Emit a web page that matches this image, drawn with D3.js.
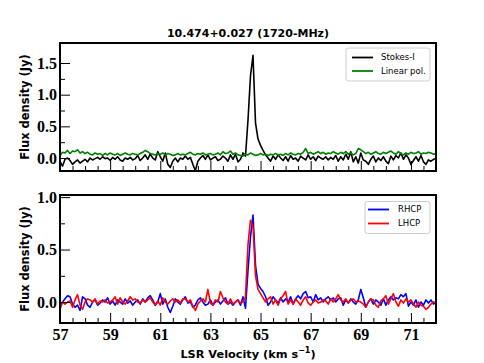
<!DOCTYPE html>
<html><head><meta charset="utf-8">
<script src="https://cdn.jsdelivr.net/npm/d3@7"></script>
<style>body{margin:0;background:#fff}</style>
</head><body>
<svg id="c" width="484" height="363"></svg>
<script>
const velocity = [
57.0,57.1,57.2,57.3,57.4,57.5,57.6,57.7,57.8,57.9,
58.0,58.1,58.2,58.3,58.4,58.5,58.6,58.7,58.8,58.9,
59.0,59.1,59.2,59.3,59.4,59.5,59.6,59.7,59.8,59.9,
60.0,60.1,60.2,60.3,60.4,60.5,60.6,60.7,60.8,60.9,
61.0,61.1,61.2,61.3,61.4,61.5,61.6,61.7,61.8,61.9,
62.0,62.1,62.2,62.3,62.4,62.5,62.6,62.7,62.8,62.9,
63.0,63.1,63.2,63.3,63.4,63.5,63.6,63.7,63.8,63.9,
64.0,64.1,64.2,64.3,64.4,64.5,64.6,64.7,64.8,64.9,
65.0,65.1,65.2,65.3,65.4,65.5,65.6,65.7,65.8,65.9,
66.0,66.1,66.2,66.3,66.4,66.5,66.6,66.7,66.8,66.9,
67.0,67.1,67.2,67.3,67.4,67.5,67.6,67.7,67.8,67.9,
68.0,68.1,68.2,68.3,68.4,68.5,68.6,68.7,68.8,68.9,
69.0,69.1,69.2,69.3,69.4,69.5,69.6,69.7,69.8,69.9,
70.0,70.1,70.2,70.3,70.4,70.5,70.6,70.7,70.8,70.9,
71.0,71.1,71.2,71.3,71.4,71.5,71.6,71.7,71.8,71.9,
72.0];

const stokesI = [
-0.05,-0.13,-0.02,0.0,-0.04,-0.1,-0.06,-0.03,-0.08,-0.05,
-0.02,-0.06,0.0,-0.03,-0.01,0.01,-0.02,0.02,-0.01,0.0,
-0.04,0.01,-0.02,0.02,-0.03,-0.05,0.0,-0.02,0.01,-0.03,
-0.01,0.04,-0.04,0.0,0.05,-0.02,0.06,0.0,-0.03,0.1,
0.02,-0.05,0.08,-0.1,-0.15,-0.05,0.0,-0.06,0.0,-0.02,
0.03,-0.02,0.01,-0.1,-0.2,-0.05,0.0,0.04,-0.02,0.05,
-0.03,0.0,0.02,-0.04,-0.02,0.03,0.0,-0.05,0.05,-0.02,
0.06,-0.06,-0.02,0.08,0.03,0.6,1.3,1.62,0.55,0.3,
0.2,0.12,0.05,0.0,-0.05,0.03,-0.02,0.05,0.0,-0.04,
0.02,-0.05,0.04,-0.02,0.0,-0.05,0.03,0.0,-0.03,0.05,
-0.02,0.02,-0.04,0.03,0.0,-0.02,0.02,-0.03,0.01,-0.02,
0.04,-0.05,0.02,-0.03,0.06,-0.02,0.1,-0.06,0.02,-0.08,
0.08,-0.03,-0.05,-0.1,-0.02,0.03,-0.06,0.0,-0.04,0.02,
-0.05,-0.09,0.03,-0.03,0.04,0.0,0.08,-0.02,0.05,0.0,
-0.1,-0.04,0.02,-0.05,0.04,-0.06,-0.1,-0.03,-0.05,-0.02,
-0.01];

const linearPol = [
0.04,0.09,0.08,0.12,0.07,0.11,0.1,0.13,0.08,0.1,
0.07,0.09,0.06,0.05,0.08,0.06,0.07,0.04,0.07,0.05,
0.08,0.06,0.05,0.07,0.04,0.06,0.08,0.06,0.05,0.07,
0.06,0.05,0.07,0.09,0.12,0.1,0.07,0.06,0.05,0.07,
0.06,0.08,0.05,0.07,0.06,0.04,0.05,0.07,0.05,0.06,
0.05,0.07,0.09,0.06,0.05,0.07,0.06,0.08,0.05,0.06,
0.07,0.05,0.06,0.08,0.05,0.1,0.07,0.08,0.11,0.06,
0.08,0.05,0.04,0.03,0.06,0.05,0.08,0.06,0.04,0.05,
0.07,0.05,0.06,0.04,0.06,0.05,0.07,0.05,0.06,0.04,
0.07,0.05,0.08,0.06,0.05,0.07,0.06,0.09,0.15,0.07,
0.09,0.06,0.08,0.1,0.07,0.09,0.06,0.08,0.07,0.1,
0.08,0.06,0.09,0.07,0.1,0.06,0.08,0.05,0.07,0.15,
0.13,0.1,0.07,0.09,0.06,0.08,0.1,0.07,0.06,0.09,
0.07,0.09,0.11,0.08,0.06,0.1,0.07,0.05,0.08,0.06,
0.09,0.07,0.08,0.1,0.06,0.08,0.07,0.09,0.08,0.06,
0.07];

const rhcp = [
-0.05,0.0,0.03,0.06,0.05,-0.02,-0.05,-0.03,-0.08,0.05,
0.03,-0.03,-0.05,0.0,0.02,-0.03,-0.01,0.02,0.0,0.04,
-0.02,0.01,-0.03,0.02,0.0,-0.02,0.03,-0.01,0.01,-0.03,
0.0,0.02,-0.02,0.03,0.0,0.04,0.06,0.02,-0.03,0.0,
0.08,-0.02,0.03,-0.05,-0.1,-0.04,0.03,0.0,-0.02,0.02,
0.05,-0.01,0.0,-0.05,-0.03,0.02,0.04,0.0,-0.03,-0.02,
0.02,-0.03,0.0,0.02,-0.02,0.01,0.04,-0.02,0.0,-0.03,
0.0,0.02,-0.03,0.05,-0.06,0.3,0.62,0.83,0.35,0.17,
0.13,0.1,0.05,-0.03,0.0,0.05,0.02,-0.01,0.04,0.0,
0.03,0.0,0.05,-0.02,0.03,0.06,0.03,0.08,0.1,0.04,
0.05,0.0,0.07,0.02,0.04,0.0,0.03,0.05,0.02,0.04,
0.0,0.03,0.04,-0.03,0.02,-0.01,0.03,0.0,-0.02,0.02,
0.12,0.04,-0.05,0.0,0.03,-0.02,0.02,0.0,-0.03,0.03,
-0.03,0.02,0.05,0.02,0.04,0.03,0.07,0.05,0.08,-0.04,
0.0,-0.03,0.02,-0.05,0.0,-0.03,0.02,-0.01,0.02,-0.02,
0.0];

const lhcp = [
-0.07,0.0,-0.02,0.0,0.01,-0.05,0.02,0.07,-0.03,-0.07,
0.0,0.03,0.02,0.0,0.03,-0.02,0.01,0.0,0.02,-0.01,
0.0,0.02,0.05,-0.02,0.04,0.0,-0.02,0.01,0.05,0.02,
0.03,0.0,-0.01,0.02,0.0,0.02,0.04,0.0,-0.03,0.01,
-0.03,0.04,0.0,-0.02,0.01,0.03,0.0,0.02,-0.01,0.03,
0.03,0.0,0.02,-0.04,-0.08,-0.02,0.01,0.03,0.0,0.12,
-0.01,-0.03,0.02,0.0,0.1,0.04,0.0,-0.02,0.03,-0.02,
0.0,0.02,-0.01,0.0,0.05,0.55,0.78,0.72,0.25,0.12,
0.08,0.04,0.0,0.03,0.05,-0.02,0.02,-0.03,0.03,0.06,
0.1,-0.02,0.02,-0.02,0.03,0.0,-0.03,0.02,0.05,-0.01,
-0.03,0.0,0.02,-0.01,0.0,0.02,0.01,-0.02,0.03,0.0,
0.03,0.07,0.02,0.0,0.03,-0.01,0.02,0.03,0.0,0.01,
0.0,-0.02,-0.05,0.0,0.03,0.02,-0.03,-0.05,0.01,0.03,
0.06,-0.02,0.03,0.08,0.0,-0.04,0.02,-0.01,0.03,0.0,
0.02,-0.02,-0.05,0.0,-0.03,-0.04,-0.07,-0.05,-0.02,0.0,
0.0];

const xMajorTicks = [57,59,61,63,65,67,69,71];
const xMinorTicks = [57.5,58,58.5,59.5,60,60.5,61.5,62,62.5,63.5,64,64.5,65.5,66,66.5,67.5,68,68.5,69.5,70,70.5,71.5];
const yTopMajor = [0.0,0.5,1.0,1.5];
const yTopMinor = [0.25,0.75,1.25];
const yBotMajor = [0.0,0.5,1.0];
const yBotMinor = [0.25,0.75];

const title = "10.474+0.027 (1720-MHz)";
const topSeries = [{name:"Stokes-I", values:stokesI, color:"#000000"},
                   {name:"Linear pol.", values:linearPol, color:"#008000"}];
const botSeries = [{name:"RHCP", values:rhcp, color:"#0000ff"},
                   {name:"LHCP", values:lhcp, color:"#ff0000"}];

const svg = d3.select("#c");
svg.append("rect").attr("width",484).attr("height",363).attr("fill","#fff");
const L = 60, R = 436;
const x = d3.scaleLinear().domain([57,72]).range([L,R]);

function panel(id, top, bottom, ydom, major, minor, series, legendBox, showXLabels){
  const y = d3.scaleLinear().domain(ydom).range([bottom, top]);
  const g = svg.append("g");
  g.append("clipPath").attr("id","clip"+id).append("rect")
    .attr("x",L).attr("y",top).attr("width",R-L).attr("height",bottom-top);
  const line = d3.line().x((d,i)=>x(velocity[i])).y(d=>y(d));
  const lg = g.append("g").attr("clip-path","url(#clip"+id+")");
  series.forEach(s=>{
    lg.append("path").attr("d", line(s.values)).attr("fill","none")
      .attr("stroke", s.color).attr("stroke-width",1.6).attr("stroke-linejoin","round");
  });
  const xaMin = d3.axisBottom(x).tickValues(xMinorTicks).tickSize(-5).tickFormat("");
  const xaMaj = d3.axisBottom(x).tickValues(xMajorTicks).tickSize(-10).tickPadding(6)
     .tickFormat(showXLabels ? d3.format("d") : "");
  [xaMin, xaMaj].forEach(a=>{
    const ax = g.append("g").attr("transform",`translate(0,${bottom})`).call(a);
    ax.select(".domain").remove();
    ax.selectAll("line").attr("stroke","#000").attr("stroke-width",1);
    ax.selectAll("text").attr("font-family","'Liberation Serif', serif").attr("font-weight","bold")
      .attr("font-size",16).attr("fill","#000");
  });
  const yaMin = d3.axisLeft(y).tickValues(minor).tickSize(-5).tickFormat("");
  const yaMaj = d3.axisLeft(y).tickValues(major).tickSize(-10).tickPadding(3).tickFormat(d3.format(".1f"));
  [yaMin, yaMaj].forEach(a=>{
    const ax = g.append("g").attr("transform",`translate(${L},0)`).call(a);
    ax.select(".domain").remove();
    ax.selectAll("line").attr("stroke","#000").attr("stroke-width",1);
    ax.selectAll("text").attr("font-family","'Liberation Serif', serif").attr("font-weight","bold")
      .attr("font-size",16).attr("fill","#000");
  });
  g.append("rect").attr("x",L).attr("y",top).attr("width",R-L).attr("height",bottom-top)
    .attr("fill","none").attr("stroke","#000").attr("stroke-width",2);
  g.append("text").attr("transform",`translate(25,${(top+bottom)/2}) rotate(-90)`)
    .attr("text-anchor","middle").attr("dy","0.35em")
    .attr("font-family","'DejaVu Sans', sans-serif").attr("font-weight","bold").attr("font-size",11.5)
    .text("Flux density (Jy)");
  const [bx,by,bw,bh,lx1,lx2,tx,rows] = legendBox;
  g.append("rect").attr("x",bx).attr("y",by).attr("width",bw).attr("height",bh).attr("rx",2.5)
    .attr("fill","#fff").attr("fill-opacity",0.8).attr("stroke","#cccccc").attr("stroke-width",1);
  series.forEach((s,i)=>{
    g.append("line").attr("x1",lx1).attr("x2",lx2).attr("y1",rows[i]).attr("y2",rows[i])
      .attr("stroke",s.color).attr("stroke-width",1.8);
    g.append("text").attr("x",tx).attr("y",rows[i]).attr("dy","0.35em")
      .attr("font-family","'DejaVu Sans', sans-serif").attr("font-size",8.5).attr("fill","#000")
      .text(s.name);
  });
}

panel("t", 43, 171, [-0.205, 1.816], yTopMajor, yTopMinor, topSeries,
      [346,48,84,33,352,373,381,[57.5,71]], false);
panel("b", 195, 323, [-0.2, 1.02], yBotMajor, yBotMinor, botSeries,
      [365,201.5,65,32,368,389,398,[209.5,223.5]], true);

svg.append("text").attr("x",248).attr("y",37).attr("text-anchor","middle")
  .attr("font-family","'DejaVu Sans', sans-serif").attr("font-weight","bold").attr("font-size",11)
  .text(title);
const xl = svg.append("text").attr("x",248).attr("y",358).attr("text-anchor","middle")
  .attr("font-family","'DejaVu Sans', sans-serif").attr("font-weight","bold").attr("font-size",11.3);
xl.append("tspan").text("LSR Velocity (km s");
xl.append("tspan").attr("dy",-5).attr("font-size",8).text("\u22121");
xl.append("tspan").attr("dy",5).text(")");
</script>
</body></html>
